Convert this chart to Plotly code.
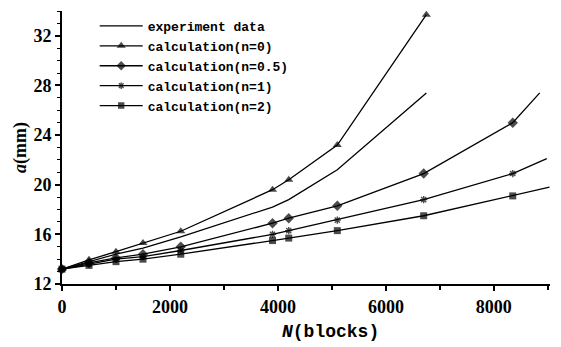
import plotly.graph_objects as go

# ---- data ----
N_exp = [0, 500, 1000, 1500, 2200, 3900, 4200, 5100, 6750]
a_exp = [13.2, 13.8, 14.4, 14.9, 15.8, 18.2, 18.8, 21.2, 27.4]

N_n0 = [0, 500, 1000, 1500, 2200, 3900, 4200, 5100, 6750]
a_n0 = [13.2, 13.95, 14.6, 15.3, 16.25, 19.6, 20.4, 23.2, 33.7]

N_n05 = [0, 500, 1000, 1500, 2200, 3900, 4200, 5100, 6700, 8350, 8850]
a_n05 = [13.2, 13.7, 14.1, 14.4, 15.0, 16.9, 17.3, 18.3, 20.9, 25.0, 27.4]

N_n1 = [0, 500, 1000, 1500, 2200, 3900, 4200, 5100, 6700, 8350, 8980]
a_n1 = [13.2, 13.6, 14.0, 14.2, 14.7, 16.0, 16.3, 17.15, 18.8, 20.9, 22.1]

N_n2 = [0, 500, 1000, 1500, 2200, 3900, 4200, 5100, 6700, 8350, 9030]
a_n2 = [13.2, 13.5, 13.8, 14.0, 14.4, 15.5, 15.7, 16.3, 17.5, 19.1, 19.8]

names = ["experiment data", "calculation(n=0)", "calculation(n=0.5)",
         "calculation(n=1)", "calculation(n=2)"]

x_tickvals = [0, 2000, 4000, 6000, 8000]
y_tickvals = [12, 16, 20, 24, 28, 32]

# ---- figure ----
fig = go.Figure()
LW = 1.3

fig.add_trace(go.Scatter(x=N_exp, y=a_exp, mode="lines", name=names[0],
                         line=dict(color="black", width=LW), cliponaxis=False))

def calc_trace(x, y, name, symbol, size=8, last_marker=True):
    sizes = [size] * len(x)
    if not last_marker:
        sizes[-1] = 0
    lw = 1.4 if "open" in symbol else 0
    return go.Scatter(x=x, y=y, mode="lines+markers", name=name,
                      line=dict(color="black", width=LW),
                      marker=dict(symbol=symbol, size=sizes, color="black",
                                  line=dict(color="black", width=lw)),
                      cliponaxis=False)

fig.add_trace(calc_trace(N_n0, a_n0, names[1], "triangle-up"))
fig.add_trace(calc_trace(N_n05, a_n05, names[2], "diamond", last_marker=False))
fig.add_trace(calc_trace(N_n1, a_n1, names[3], "asterisk-open", size=6, last_marker=False))
fig.add_trace(calc_trace(N_n2, a_n2, names[4], "square", size=7, last_marker=False))

SERIF = "Liberation Serif, Times New Roman, serif"
MONO = "Liberation Mono, Courier New, monospace"
tickfont = dict(family=SERIF, size=18, color="black", weight="bold")

# the page body has an 8px margin, so the figure is 8px smaller and margins shifted
fig.update_layout(
    width=553, height=339,
    margin=dict(l=54, r=11, t=3, b=63, autoexpand=False),
    plot_bgcolor="white", paper_bgcolor="white",
    showlegend=True,
    legend=dict(x=0.067, y=1.0, xanchor="left", yanchor="top",
                bgcolor="rgba(0,0,0,0)",
                font=dict(family=MONO, size=13, color="black", weight="bold"),
                tracegroupgap=0, itemwidth=43),
    xaxis=dict(range=[0, 9040], tickvals=x_tickvals, showgrid=False, zeroline=False,
               showline=True, linecolor="black", linewidth=2,
               ticks="outside", ticklen=5, tickwidth=1.5, tickcolor="black",
               tickfont=tickfont,
               minor=dict(dtick=1000, ticks="outside", ticklen=4, tickcolor="black", tickwidth=1.5)),
    yaxis=dict(range=[12, 34], tickvals=y_tickvals, showgrid=False, zeroline=False,
               showline=True, linecolor="black", linewidth=2,
               ticks="outside", ticklen=5, tickwidth=1.5, tickcolor="black",
               tickfont=tickfont,
               minor=dict(dtick=1, ticks="outside", ticklen=3, tickcolor="black", tickwidth=1.2),
               title=dict(text="<i>a</i>(mm)", standoff=2,
                          font=dict(family=SERIF, size=18, color="black", weight="bold"))),
    annotations=[dict(text="<i>N</i>(blocks)", xref="paper", yref="paper",
                      x=0.551, y=-0.176, xanchor="center", yanchor="middle",
                      showarrow=False,
                      font=dict(family=MONO, size=18, color="black", weight="bold"))],
)

fig.write_html("out.html")
